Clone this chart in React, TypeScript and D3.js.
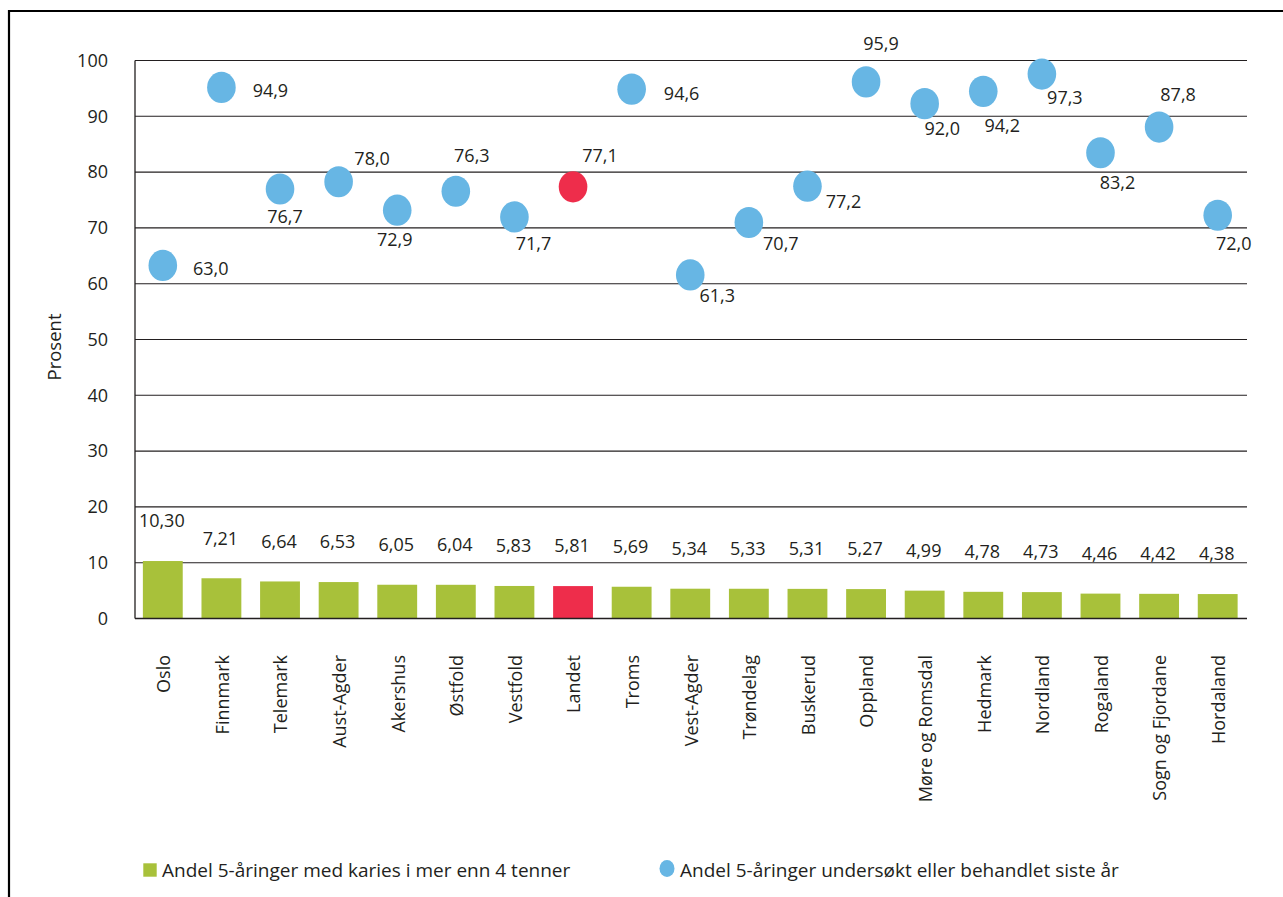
import React from "react";
import * as d3 from "d3";

const categories = ["Oslo","Finnmark","Telemark","Aust-Agder","Akershus","Østfold","Vestfold","Landet","Troms","Vest-Agder","Trøndelag","Buskerud","Oppland","Møre og Romsdal","Hedmark","Nordland","Rogaland","Sogn og Fjordane","Hordaland"];
const kariesValues = [10.30,7.21,6.64,6.53,6.05,6.04,5.83,5.81,5.69,5.34,5.33,5.31,5.27,4.99,4.78,4.73,4.46,4.42,4.38];
const undersoktValues = [63.0,94.9,76.7,78.0,72.9,76.3,71.7,77.1,94.6,61.3,70.7,77.2,95.9,92.0,94.2,97.3,83.2,87.8,72.0];
const yTicks = [0,10,20,30,40,50,60,70,80,90,100];
const highlight = "Landet";
const legendLabels = ["Andel 5-åringer med karies i mer enn 4 tenner","Andel 5-åringer undersøkt eller behandlet siste år"];
const yTitle = "Prosent";

// label placement offsets (label centre relative to dot centre)
const dotLabelOffsets: [number, number][] = [
  [48,3],[49,3.5],[5,27.5],[33.5,-23],[-2.5,29],[16,-36],[19,27],[27,-31],[50,4.5],[27,21],
  [32,21],[36,15],[15,-38],[17.5,25],[19,34.5],[23,24],[17,30],[19,-32],[16,28]
];

const GREEN = "#a8c13a";
const RED = "#ee2d4b";
const BLUE = "#67b6e4";
const TEXT = "#231f20";
const FONT = "'Open Sans', sans-serif";

export default function App() {
  const W = 1283, H = 897;
  const y = d3.scaleLinear().domain([0, 100]).range([618.5, 60.5]);
  const x = d3.scaleBand().domain(categories).range([133.5, 1247]).paddingInner(0.32).paddingOuter(0.16);
  const bw = x.bandwidth();
  const cx = (c: string) => (x(c) as number) + bw / 2;
  const axisLeft = 135, axisRight = 1247;
  const fmt = (v: number, d: number) => v.toFixed(d).replace(".", ",");

  return (
    <svg width={W} height={H} style={{ position: "absolute", left: 0, top: 0, display: "block", background: "#fff" }} fontFamily={FONT}>
      <rect x={0} y={0} width={W} height={H} fill="#fff" />
      {/* frame */}
      <line x1={9} y1={11} x2={W} y2={11} stroke="#000" strokeWidth={2.2} />
      <line x1={9} y1={10} x2={9} y2={H} stroke="#000" strokeWidth={2.2} />

      {/* grid */}
      {yTicks.map((t) => (
        <g key={t}>
          {t > 0 && <line x1={axisLeft} x2={axisRight} y1={y(t)} y2={y(t)} stroke="#231f20" strokeWidth={1.1} />}
          <text x={108} y={y(t)} dy="0.35em" textAnchor="end" fontSize={18} fill={TEXT}>{t}</text>
        </g>
      ))}

      {/* bars */}
      {categories.map((c, i) => (
        <g key={c}>
          <rect x={x(c)} y={y(kariesValues[i])} width={bw} height={y(0) - y(kariesValues[i])} fill={c === highlight ? RED : GREEN} />
          <text x={cx(c) - 1} y={y(kariesValues[i]) - 40} dy="0.35em" textAnchor="middle" fontSize={18} fill={TEXT}>{fmt(kariesValues[i], 2)}</text>
        </g>
      ))}

      {/* axes */}
      <line x1={axisLeft} x2={axisLeft} y1={y(100)} y2={y(0)} stroke="#231f20" strokeWidth={1.3} />
      <line x1={axisLeft} x2={axisRight} y1={y(0)} y2={y(0)} stroke="#231f20" strokeWidth={1.3} />

      {/* dots */}
      {categories.map((c, i) => {
        const px = cx(c), py = y(undersoktValues[i]) - 1.5;
        const [dx, dy] = dotLabelOffsets[i];
        return (
          <g key={"d" + c}>
            <ellipse cx={px} cy={py} rx={14.3} ry={15.6} fill={c === highlight ? RED : BLUE} />
            <text x={px + dx} y={py + dy} dy="0.35em" textAnchor="middle" fontSize={18} fill={TEXT}>{fmt(undersoktValues[i], 1)}</text>
          </g>
        );
      })}

      {/* category labels */}
      {categories.map((c) => (
        <text key={"l" + c} transform={`translate(${cx(c) + 1},655) rotate(-90)`} dy="0.35em" textAnchor="end" fontSize={18} fill={TEXT}>{c}</text>
      ))}

      {/* y title */}
      <text transform="translate(55,347) rotate(-90)" dy="0.35em" textAnchor="middle" fontSize={18.5} fill={TEXT}>{yTitle}</text>

      {/* legend */}
      <rect x={143.3} y={863.3} width={13.4} height={13.4} fill={GREEN} />
      <text x={162} y={876.5} fontSize={19} fill={TEXT}>{legendLabels[0]}</text>
      <ellipse cx={667} cy={868.5} rx={7.5} ry={8.5} fill={BLUE} />
      <text x={680} y={876.5} fontSize={19} fill={TEXT}>{legendLabels[1]}</text>
    </svg>
  );
}
